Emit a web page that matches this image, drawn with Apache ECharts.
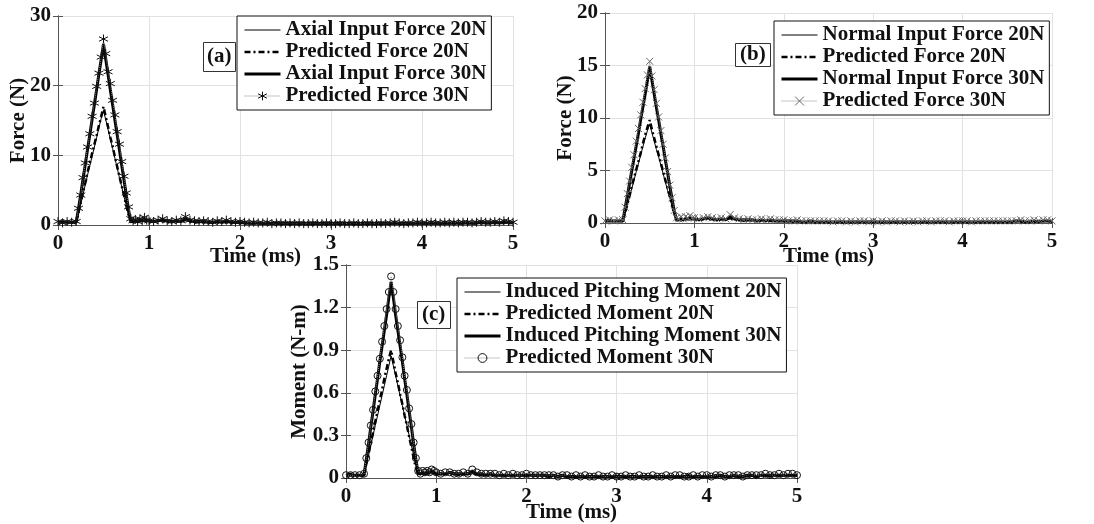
<!DOCTYPE html>
<html>
<head>
<meta charset="utf-8">
<script src="https://cdn.jsdelivr.net/npm/echarts/dist/echarts.min.js"></script>
<style>
  html, body { margin: 0; padding: 0; background: #fff; }
  .panel { position: absolute; left: 0; top: 0; width: 1094px; height: 524px; }
</style>
</head>
<body>
<div id="pa" class="panel"></div>
<div id="pb" class="panel"></div>
<div id="pc" class="panel"></div>
<script>
// Sample times (ms): coarse before the pulse, finer across it, coarse in the tail
const timeMs = [
  0, 0.05, 0.1, 0.15,
  0.2, 0.225, 0.25, 0.275, 0.3, 0.325, 0.35, 0.375, 0.4, 0.425, 0.45, 0.475,
  0.5, 0.525, 0.55, 0.575, 0.6, 0.625, 0.65, 0.675, 0.7, 0.725, 0.75, 0.775,
  0.8, 0.825, 0.85, 0.875, 0.9, 0.925, 0.95, 0.975,
  1.0, 1.05, 1.1, 1.15, 1.2, 1.25, 1.3, 1.35, 1.4, 1.45,
  1.5, 1.55, 1.6, 1.65, 1.7, 1.75, 1.8, 1.85, 1.9, 1.95,
  2.0, 2.05, 2.1, 2.15, 2.2, 2.25, 2.3, 2.35, 2.4, 2.45,
  2.5, 2.55, 2.6, 2.65, 2.7, 2.75, 2.8, 2.85, 2.9, 2.95,
  3.0, 3.05, 3.1, 3.15, 3.2, 3.25, 3.3, 3.35, 3.4, 3.45,
  3.5, 3.55, 3.6, 3.65, 3.7, 3.75, 3.8, 3.85, 3.9, 3.95,
  4.0, 4.05, 4.1, 4.15, 4.2, 4.25, 4.3, 4.35, 4.4, 4.45,
  4.5, 4.55, 4.6, 4.65, 4.7, 4.75, 4.8, 4.85, 4.9, 4.95,
  5.0
];

const xTicks = [0, 1, 2, 3, 4, 5];

// ---- (a) axial force (N) ----
const axialInput20 = [
  0.4, 0.4, 0.4, 0.4,
  0.4, 1.6, 3.0, 4.4, 5.8, 7.2, 8.5, 9.9, 11.2, 12.6, 14.0, 15.3,
  16.4, 15.1, 13.7, 12.3, 11.0, 9.6, 8.2, 6.8, 5.5, 4.1, 2.8, 1.4,
  0.5, 0.4, 0.5, 0.4, 0.5, 0.5, 0.6, 0.5,
  0.5, 0.4, 0.5, 0.6, 0.4, 0.4, 0.5, 0.4, 0.6, 0.5,
  0.4, 0.4, 0.4, 0.3, 0.3, 0.4, 0.3, 0.4, 0.3, 0.3,
  0.3, 0.3, 0.2, 0.3, 0.2, 0.2, 0.2, 0.2, 0.2, 0.2,
  0.2, 0.2, 0.1, 0.2, 0.2, 0.1, 0.2, 0.2, 0.1, 0.2,
  0.1, 0.2, 0.2, 0.1, 0.2, 0.2, 0.1, 0.2, 0.2, 0.1,
  0.2, 0.2, 0.1, 0.2, 0.2, 0.2, 0.1, 0.2, 0.2, 0.2,
  0.2, 0.2, 0.2, 0.2, 0.2, 0.2, 0.2, 0.2, 0.2, 0.2,
  0.2, 0.2, 0.3, 0.2, 0.2, 0.3, 0.2, 0.2, 0.3, 0.3,
  0.2
];
const axialPred20 = [
  0.4, 0.5, 0.4, 0.4,
  0.4, 1.8, 3.2, 4.7, 6.1, 7.6, 8.9, 10.3, 11.6, 12.9, 14.3, 15.6,
  17.0, 15.5, 14.1, 12.6, 11.3, 9.8, 8.4, 7.0, 5.6, 4.3, 2.8, 1.5,
  0.6, 0.5, 0.7, 0.5, 0.7, 0.6, 0.8, 0.6,
  0.5, 0.5, 0.6, 0.7, 0.5, 0.4, 0.6, 0.5, 0.8, 0.5,
  0.4, 0.4, 0.5, 0.4, 0.3, 0.4, 0.4, 0.5, 0.3, 0.3,
  0.4, 0.3, 0.2, 0.3, 0.3, 0.2, 0.3, 0.2, 0.2, 0.3,
  0.2, 0.2, 0.2, 0.2, 0.2, 0.1, 0.2, 0.2, 0.2, 0.2,
  0.1, 0.2, 0.2, 0.2, 0.2, 0.2, 0.1, 0.2, 0.2, 0.2,
  0.2, 0.2, 0.2, 0.2, 0.3, 0.2, 0.2, 0.2, 0.2, 0.3,
  0.2, 0.2, 0.3, 0.2, 0.2, 0.3, 0.2, 0.3, 0.2, 0.3,
  0.3, 0.2, 0.3, 0.3, 0.3, 0.3, 0.4, 0.3, 0.4, 0.3,
  0.3
];
const axialInput30 = [
  0.4, 0.4, 0.4, 0.4,
  0.4, 2.3, 4.4, 6.6, 8.7, 10.9, 13.0, 15.2, 17.3, 19.5, 21.7, 23.8,
  26.0, 23.8, 21.6, 19.4, 17.3, 15.1, 13.0, 10.8, 8.6, 6.5, 4.3, 2.2,
  0.5, 0.5, 0.6, 0.5, 0.7, 0.6, 0.8, 0.6,
  0.6, 0.5, 0.6, 0.8, 0.6, 0.5, 0.6, 0.5, 1.0, 0.6,
  0.5, 0.5, 0.5, 0.4, 0.4, 0.5, 0.4, 0.6, 0.4, 0.4,
  0.4, 0.3, 0.3, 0.3, 0.3, 0.2, 0.3, 0.2, 0.3, 0.2,
  0.2, 0.2, 0.2, 0.2, 0.2, 0.2, 0.2, 0.2, 0.2, 0.2,
  0.2, 0.2, 0.2, 0.2, 0.2, 0.2, 0.2, 0.2, 0.2, 0.2,
  0.2, 0.2, 0.2, 0.2, 0.3, 0.2, 0.2, 0.2, 0.2, 0.3,
  0.3, 0.2, 0.3, 0.3, 0.2, 0.3, 0.3, 0.3, 0.3, 0.3,
  0.3, 0.3, 0.3, 0.4, 0.3, 0.3, 0.4, 0.3, 0.4, 0.4,
  0.3
];
const axialPred30 = [
  0.5, 0.3, 0.5, 0.4,
  0.5, 2.4, 4.3, 6.8, 8.9, 11.2, 13.1, 15.6, 17.5, 19.9, 21.8, 24.1,
  26.7, 24.6, 22.0, 20.3, 17.9, 15.8, 13.4, 11.6, 9.1, 7.0, 4.6, 2.6,
  0.9, 0.6, 0.8, 0.5, 0.9, 0.6, 1.1, 0.7,
  0.6, 0.5, 0.7, 0.9, 0.6, 0.5, 0.7, 0.6, 1.2, 0.7,
  0.6, 0.5, 0.6, 0.5, 0.4, 0.6, 0.5, 0.7, 0.5, 0.4,
  0.5, 0.4, 0.3, 0.4, 0.3, 0.3, 0.4, 0.2, 0.3, 0.3,
  0.2, 0.3, 0.2, 0.3, 0.2, 0.2, 0.3, 0.2, 0.2, 0.3,
  0.2, 0.2, 0.3, 0.2, 0.2, 0.3, 0.2, 0.2, 0.3, 0.2,
  0.2, 0.3, 0.2, 0.3, 0.4, 0.3, 0.2, 0.3, 0.3, 0.4,
  0.3, 0.3, 0.4, 0.3, 0.3, 0.4, 0.3, 0.4, 0.3, 0.4,
  0.4, 0.3, 0.4, 0.5, 0.4, 0.4, 0.5, 0.4, 0.6, 0.5,
  0.4
];

// ---- (b) normal force (N) ----
const normalInput20 = [
  0.2, 0.2, 0.2, 0.2,
  0.2, 0.9, 1.7, 2.5, 3.3, 4.1, 4.9, 5.7, 6.5, 7.3, 8.1, 8.8,
  9.4, 8.6, 7.8, 7.0, 6.3, 5.5, 4.7, 3.9, 3.1, 2.4, 1.6, 0.8,
  0.2, 0.2, 0.3, 0.2, 0.3, 0.3, 0.4, 0.3,
  0.3, 0.3, 0.3, 0.4, 0.3, 0.2, 0.3, 0.3, 0.4, 0.3,
  0.2, 0.2, 0.2, 0.2, 0.2, 0.2, 0.2, 0.2, 0.2, 0.2,
  0.2, 0.1, 0.1, 0.1, 0.1, 0.1, 0.1, 0.1, 0.1, 0.1,
  0.1, 0.1, 0.1, 0.1, 0.1, 0.1, 0.1, 0.1, 0.1, 0.1,
  0.1, 0.1, 0.1, 0.1, 0.1, 0.1, 0.1, 0.1, 0.1, 0.1,
  0.1, 0.1, 0.1, 0.1, 0.1, 0.1, 0.1, 0.1, 0.1, 0.1,
  0.1, 0.1, 0.1, 0.1, 0.1, 0.1, 0.1, 0.1, 0.1, 0.1,
  0.1, 0.1, 0.1, 0.2, 0.1, 0.1, 0.2, 0.1, 0.2, 0.2,
  0.1
];
const normalPred20 = [
  0.2, 0.3, 0.2, 0.2,
  0.2, 1.0, 1.8, 2.6, 3.5, 4.3, 5.1, 5.9, 6.7, 7.6, 8.4, 9.1,
  9.8, 8.9, 8.1, 7.3, 6.5, 5.7, 4.9, 4.1, 3.3, 2.5, 1.7, 0.9,
  0.3, 0.3, 0.4, 0.3, 0.4, 0.3, 0.5, 0.4,
  0.3, 0.3, 0.4, 0.4, 0.3, 0.3, 0.3, 0.3, 0.5, 0.3,
  0.3, 0.2, 0.3, 0.2, 0.2, 0.2, 0.2, 0.2, 0.2, 0.2,
  0.2, 0.2, 0.1, 0.2, 0.1, 0.1, 0.1, 0.1, 0.1, 0.1,
  0.1, 0.1, 0.1, 0.1, 0.1, 0.1, 0.1, 0.1, 0.1, 0.1,
  0.1, 0.1, 0.1, 0.1, 0.1, 0.1, 0.1, 0.1, 0.1, 0.1,
  0.1, 0.1, 0.1, 0.1, 0.1, 0.1, 0.1, 0.1, 0.1, 0.1,
  0.1, 0.1, 0.1, 0.1, 0.1, 0.1, 0.1, 0.1, 0.1, 0.1,
  0.1, 0.1, 0.2, 0.1, 0.1, 0.2, 0.1, 0.2, 0.2, 0.2,
  0.2
];
const normalInput30 = [
  0.2, 0.2, 0.2, 0.2,
  0.2, 1.4, 2.6, 3.8, 5.0, 6.2, 7.4, 8.6, 9.9, 11.1, 12.3, 13.6,
  14.9, 13.6, 12.3, 11.0, 9.8, 8.5, 7.3, 6.0, 4.8, 3.5, 2.3, 1.1,
  0.3, 0.3, 0.4, 0.3, 0.4, 0.4, 0.5, 0.4,
  0.4, 0.3, 0.4, 0.5, 0.4, 0.3, 0.4, 0.3, 0.6, 0.4,
  0.3, 0.3, 0.3, 0.3, 0.2, 0.3, 0.2, 0.3, 0.2, 0.2,
  0.2, 0.2, 0.2, 0.2, 0.1, 0.1, 0.2, 0.1, 0.1, 0.1,
  0.1, 0.1, 0.1, 0.1, 0.1, 0.1, 0.1, 0.1, 0.1, 0.1,
  0.1, 0.1, 0.1, 0.1, 0.1, 0.1, 0.1, 0.1, 0.1, 0.1,
  0.1, 0.1, 0.1, 0.1, 0.1, 0.1, 0.1, 0.1, 0.1, 0.1,
  0.1, 0.1, 0.1, 0.1, 0.1, 0.1, 0.1, 0.1, 0.1, 0.1,
  0.1, 0.1, 0.2, 0.2, 0.1, 0.1, 0.2, 0.1, 0.2, 0.2,
  0.1
];
const normalPred30 = [
  0.2, 0.3, 0.2, 0.3,
  0.3, 1.5, 2.8, 4.0, 5.3, 6.5, 7.8, 9.0, 10.3, 11.5, 12.8, 14.1,
  15.4, 14.0, 12.7, 11.4, 10.1, 8.8, 7.5, 6.2, 4.9, 3.6, 2.4, 1.2,
  0.5, 0.4, 0.6, 0.4, 0.6, 0.5, 0.7, 0.5,
  0.5, 0.4, 0.5, 0.6, 0.5, 0.4, 0.5, 0.4, 0.8, 0.5,
  0.4, 0.3, 0.4, 0.3, 0.3, 0.4, 0.3, 0.4, 0.3, 0.3,
  0.3, 0.2, 0.2, 0.3, 0.2, 0.2, 0.2, 0.2, 0.2, 0.2,
  0.2, 0.1, 0.2, 0.2, 0.1, 0.2, 0.1, 0.2, 0.2, 0.1,
  0.2, 0.1, 0.2, 0.1, 0.2, 0.2, 0.1, 0.2, 0.1, 0.2,
  0.1, 0.2, 0.2, 0.1, 0.2, 0.2, 0.2, 0.1, 0.2, 0.2,
  0.2, 0.2, 0.1, 0.2, 0.2, 0.2, 0.2, 0.2, 0.2, 0.2,
  0.2, 0.2, 0.2, 0.3, 0.2, 0.2, 0.3, 0.2, 0.3, 0.3,
  0.2
];

// ---- (c) pitching moment (N-m) ----
const momentInput20 = [
  0.02, 0.02, 0.02, 0.02,
  0.02, 0.09, 0.16, 0.23, 0.30, 0.37, 0.44, 0.51, 0.58, 0.65, 0.72, 0.79,
  0.86, 0.79, 0.72, 0.65, 0.58, 0.51, 0.44, 0.37, 0.30, 0.23, 0.16, 0.09,
  0.03, 0.02, 0.03, 0.02, 0.03, 0.03, 0.04, 0.03,
  0.03, 0.02, 0.03, 0.03, 0.02, 0.02, 0.03, 0.02, 0.03, 0.02,
  0.02, 0.02, 0.02, 0.02, 0.02, 0.02, 0.02, 0.02, 0.02, 0.02,
  0.02, 0.02, 0.01, 0.02, 0.01, 0.01, 0.02, 0.01, 0.01, 0.01,
  0.01, 0.01, 0.01, 0.01, 0.01, 0.01, 0.01, 0.01, 0.01, 0.01,
  0.01, 0.01, 0.01, 0.01, 0.01, 0.01, 0.01, 0.01, 0.01, 0.01,
  0.01, 0.01, 0.01, 0.01, 0.01, 0.01, 0.01, 0.01, 0.01, 0.01,
  0.01, 0.01, 0.01, 0.01, 0.01, 0.01, 0.01, 0.01, 0.01, 0.01,
  0.01, 0.01, 0.02, 0.01, 0.01, 0.02, 0.01, 0.02, 0.02, 0.02,
  0.01
];
const momentPred20 = [
  0.02, 0.03, 0.02, 0.02,
  0.02, 0.10, 0.17, 0.25, 0.32, 0.40, 0.47, 0.55, 0.62, 0.70, 0.77, 0.84,
  0.90, 0.82, 0.74, 0.67, 0.59, 0.52, 0.44, 0.37, 0.29, 0.22, 0.14, 0.07,
  0.03, 0.03, 0.04, 0.03, 0.04, 0.03, 0.05, 0.04,
  0.03, 0.03, 0.03, 0.04, 0.03, 0.02, 0.03, 0.03, 0.04, 0.03,
  0.02, 0.02, 0.03, 0.02, 0.02, 0.02, 0.02, 0.02, 0.02, 0.02,
  0.02, 0.02, 0.02, 0.02, 0.01, 0.02, 0.01, 0.01, 0.02, 0.01,
  0.01, 0.01, 0.01, 0.02, 0.01, 0.01, 0.01, 0.01, 0.01, 0.01,
  0.01, 0.01, 0.01, 0.01, 0.02, 0.01, 0.01, 0.01, 0.01, 0.01,
  0.01, 0.01, 0.01, 0.01, 0.01, 0.01, 0.02, 0.01, 0.01, 0.01,
  0.01, 0.01, 0.02, 0.01, 0.01, 0.01, 0.01, 0.02, 0.01, 0.01,
  0.02, 0.01, 0.02, 0.02, 0.01, 0.02, 0.02, 0.02, 0.02, 0.02,
  0.02
];
const momentInput30 = [
  0.02, 0.02, 0.02, 0.02,
  0.02, 0.13, 0.24, 0.36, 0.47, 0.59, 0.70, 0.82, 0.93, 1.04, 1.15, 1.27,
  1.38, 1.27, 1.15, 1.04, 0.93, 0.82, 0.70, 0.59, 0.47, 0.36, 0.24, 0.13,
  0.03, 0.03, 0.04, 0.03, 0.04, 0.04, 0.05, 0.04,
  0.03, 0.03, 0.03, 0.04, 0.03, 0.03, 0.03, 0.03, 0.05, 0.03,
  0.03, 0.02, 0.03, 0.02, 0.02, 0.02, 0.02, 0.02, 0.02, 0.02,
  0.02, 0.02, 0.02, 0.02, 0.02, 0.01, 0.02, 0.01, 0.02, 0.01,
  0.01, 0.01, 0.01, 0.01, 0.01, 0.01, 0.01, 0.01, 0.01, 0.01,
  0.01, 0.01, 0.01, 0.01, 0.01, 0.01, 0.01, 0.01, 0.01, 0.01,
  0.01, 0.01, 0.01, 0.01, 0.01, 0.01, 0.01, 0.01, 0.01, 0.01,
  0.01, 0.01, 0.01, 0.02, 0.01, 0.01, 0.02, 0.01, 0.01, 0.02,
  0.02, 0.01, 0.02, 0.02, 0.02, 0.02, 0.02, 0.02, 0.02, 0.02,
  0.02
];
const momentPred30 = [
  0.02, 0.02, 0.02, 0.02,
  0.03, 0.14, 0.25, 0.37, 0.48, 0.61, 0.72, 0.84, 0.96, 1.07, 1.19, 1.31,
  1.42, 1.31, 1.19, 1.07, 0.97, 0.85, 0.72, 0.62, 0.49, 0.38, 0.25, 0.14,
  0.05, 0.03, 0.05, 0.04, 0.05, 0.04, 0.06, 0.05,
  0.04, 0.03, 0.04, 0.04, 0.03, 0.03, 0.04, 0.03, 0.06, 0.04,
  0.03, 0.03, 0.03, 0.03, 0.02, 0.03, 0.02, 0.03, 0.02, 0.02,
  0.03, 0.02, 0.02, 0.02, 0.02, 0.02, 0.02, 0.01, 0.02, 0.02,
  0.01, 0.02, 0.01, 0.02, 0.01, 0.01, 0.02, 0.01, 0.01, 0.02,
  0.01, 0.01, 0.02, 0.01, 0.01, 0.02, 0.01, 0.01, 0.02, 0.01,
  0.01, 0.02, 0.01, 0.02, 0.02, 0.01, 0.01, 0.02, 0.01, 0.02,
  0.02, 0.01, 0.02, 0.02, 0.01, 0.02, 0.02, 0.02, 0.01, 0.02,
  0.02, 0.02, 0.02, 0.03, 0.02, 0.02, 0.03, 0.02, 0.03, 0.03,
  0.02
];

const SERIF = "'Liberation Serif', 'Times New Roman', Times, serif";
const FONT = { fontFamily: SERIF, fontWeight: 'bold', fontSize: 21, color: '#111' };

const ASTERISK = 'path://M5,0L5,10M0.7,2.5L9.3,7.5M0.7,7.5L9.3,2.5';
const CROSS = 'path://M0,0L10,10M0,10L10,0';
const CLEAR = 'rgba(0,0,0,0)';
const NO_MARK = { color: CLEAR, borderColor: CLEAR, borderWidth: 0 };

// Line styles shared by all panels
const styles = {
  thin:    { symbol: 'none', lineStyle: { color: '#000', width: 1 } },
  dashdot: { symbol: 'none', lineStyle: { color: '#000', width: 2.5, type: [6, 3, 2, 3] } },
  thick:   { symbol: 'none', lineStyle: { color: '#000', width: 3 } }
};
// Marker series: dotted grey line, unfilled markers
function markerStyle(symbol, color, size) {
  return {
    symbol: symbol, symbolSize: size, showAllSymbol: true,
    lineStyle: { color: '#8a8a8a', width: 1, type: 'dotted' },
    itemStyle: { color: CLEAR, borderColor: color, borderWidth: 1 }
  };
}

function build(p) {
  const series = p.series.map(function (s, i) {
    return Object.assign({
      name: s.name, type: 'line', z: 2 + i, silent: true,
      emphasis: { disabled: true },
      data: timeMs.map(function (t, k) { return [t, s.values[k]]; })
    }, s.style);
  });
  const legendData = p.series.map(function (s) {
    return {
      name: s.name,
      lineStyle: Object.assign({}, s.style.lineStyle),
      itemStyle: Object.assign({}, s.style.itemStyle || NO_MARK)
    };
  });
  const axisCommon = {
    type: 'value',
    axisLine: { show: true, lineStyle: { color: '#555', width: 1 } },
    axisTick: { show: true, inside: true, length: 5, lineStyle: { color: '#555' } }
  };
  return {
    animation: false,
    title: {
      text: p.tag, left: p.tagPos[0], top: p.tagPos[1], padding: p.tagPad,
      borderColor: '#333', borderWidth: 1, backgroundColor: '#fff',
      textStyle: Object.assign({ lineHeight: 22 }, FONT)
    },
    legend: {
      orient: 'vertical', left: p.legendPos[0], top: p.legendPos[1],
      padding: [3, 5, 3, 6], itemGap: 0, itemWidth: 36, itemHeight: 11,
      backgroundColor: '#fff', borderColor: '#111', borderWidth: 1, borderRadius: 0,
      selectedMode: false,
      textStyle: Object.assign({ lineHeight: 22, color: '#000' }, FONT),
      data: legendData
    },
    grid: { left: p.grid[0], top: p.grid[1], width: p.grid[2], height: p.grid[3], show: false },
    xAxis: [
      Object.assign({}, axisCommon, {
        min: xTicks[0], max: xTicks[xTicks.length - 1], interval: 1, position: 'bottom',
        axisLabel: Object.assign({ margin: 8 }, FONT),
        splitLine: { show: true, lineStyle: { color: '#e2e2e2', width: 1 } },
        name: 'Time (ms)', nameLocation: 'middle', nameGap: p.xNameGap,
        nameMoveOverlap: false,
        nameTextStyle: Object.assign({ padding: p.xNamePad }, FONT)
      }),
      Object.assign({}, axisCommon, {
        min: xTicks[0], max: xTicks[xTicks.length - 1], interval: 1, position: 'top',
        axisLabel: { show: false }, splitLine: { show: false }
      })
    ],
    yAxis: [
      Object.assign({}, axisCommon, {
        min: p.yTicks[0], max: p.yTicks[p.yTicks.length - 1], interval: p.yStep, position: 'left',
        axisLabel: Object.assign({
          margin: 7,
          formatter: function (v) { return String(Number(v.toFixed(2))); }
        }, FONT),
        splitLine: { show: true, lineStyle: { color: '#e2e2e2', width: 1 } },
        name: p.yName, nameLocation: 'middle', nameGap: p.yNameGap,
        nameMoveOverlap: false,
        nameTextStyle: FONT
      }),
      Object.assign({}, axisCommon, {
        min: p.yTicks[0], max: p.yTicks[p.yTicks.length - 1], interval: p.yStep, position: 'right',
        axisLabel: { show: false }, splitLine: { show: false }
      })
    ],
    series: series
  };
}

const panelA = {
  tag: '(a)', tagPos: [203, 42], tagPad: [4, 4],
  legendPos: [237, 16],
  grid: [58, 16, 455, 209],
  xNameGap: 21, xNamePad: [0, 60, 0, 0],
  yTicks: [0, 10, 20, 30], yStep: 10, yName: 'Force (N)', yNameGap: 29,
  series: [
    { name: 'Axial Input Force 20N', values: axialInput20, style: styles.thin },
    { name: 'Predicted Force 20N', values: axialPred20, style: styles.dashdot },
    { name: 'Axial Input Force 30N', values: axialInput30, style: styles.thick },
    { name: 'Predicted Force 30N', values: axialPred30, style: markerStyle(ASTERISK, '#111', 9) }
  ]
};
const panelB = {
  tag: '(b)', tagPos: [735, 43], tagPad: [1, 5],
  legendPos: [774, 21],
  grid: [605, 13, 447, 210],
  xNameGap: 23, xNamePad: [0, 0, 0, 0],
  yTicks: [0, 5, 10, 15, 20], yStep: 5, yName: 'Force (N)', yNameGap: 29,
  series: [
    { name: 'Normal Input Force 20N', values: normalInput20, style: styles.thin },
    { name: 'Predicted Force 20N', values: normalPred20, style: styles.dashdot },
    { name: 'Normal Input Force 30N', values: normalInput30, style: styles.thick },
    { name: 'Predicted Force 30N', values: normalPred30, style: markerStyle(CROSS, '#666', 7) }
  ]
};
const panelC = {
  tag: '(c)', tagPos: [417, 301], tagPad: [3, 5],
  legendPos: [457, 278],
  grid: [346, 265, 451, 217],
  xNameGap: 24, xNamePad: [0, 0, 0, 0],
  yTicks: [0, 0.3, 0.6, 0.9, 1.2, 1.5], yStep: 0.3, yName: 'Moment (N-m)', yNameGap: 36,
  series: [
    { name: 'Induced Pitching Moment 20N', values: momentInput20, style: styles.thin },
    { name: 'Predicted Moment 20N', values: momentPred20, style: styles.dashdot },
    { name: 'Induced Pitching Moment 30N', values: momentInput30, style: styles.thick },
    { name: 'Predicted Moment 30N', values: momentPred30, style: markerStyle('circle', '#111', 7) }
  ]
};

echarts.init(document.getElementById('pa'), null, { renderer: 'canvas' }).setOption(build(panelA));
echarts.init(document.getElementById('pb'), null, { renderer: 'canvas' }).setOption(build(panelB));
echarts.init(document.getElementById('pc'), null, { renderer: 'canvas' }).setOption(build(panelC));
</script>
</body>
</html>
